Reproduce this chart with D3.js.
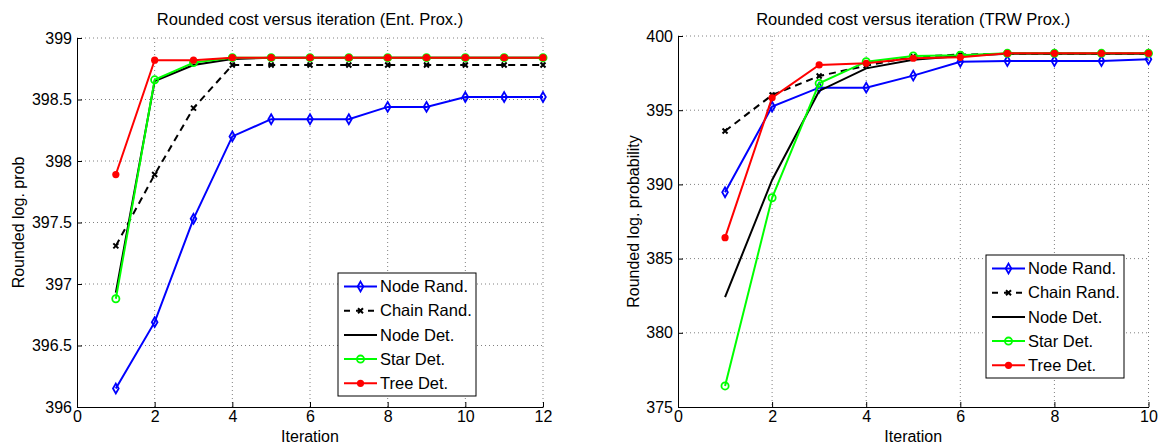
<!DOCTYPE html>
<html>
<head>
<meta charset="utf-8">
<script src="https://cdn.jsdelivr.net/npm/d3@7"></script>
<style>
  body { margin: 0; background: #fff; }
  svg { font-family: 'Liberation Sans', Arial, sans-serif; }
  .grid line { stroke: #808080; stroke-dasharray: 1, 3; }
  .axis path, .axis line { stroke: #000; }
  .axis text { font-size: 16px; fill: #000; }
</style>
</head>
<body>
<div id="chart"></div>
<script>
/* global d3 */

// iterations
let iterEnt = [1, 2, 3, 4, 5, 6, 7, 8, 9, 10, 11, 12]
let iterTrw = [1, 2, 3, 4, 5, 6, 7, 8, 9, 10]

let seriesNames = ['Node Rand.', 'Chain Rand.', 'Node Det.', 'Star Det.', 'Tree Det.']

// Ent. Prox.
let nodeRandEnt = [396.15, 396.69, 397.53, 398.2, 398.34, 398.34, 398.34, 398.44, 398.44, 398.52, 398.52, 398.52]
let chainRandEnt = [397.31, 397.89, 398.43, 398.78, 398.78, 398.78, 398.78, 398.78, 398.78, 398.78, 398.78, 398.78]
let nodeDetEnt = [396.93, 398.65, 398.78, 398.83, 398.84, 398.84, 398.84, 398.84, 398.84, 398.84, 398.84, 398.84]
let starDetEnt = [396.88, 398.66, 398.8, 398.84, 398.84, 398.84, 398.84, 398.84, 398.84, 398.84, 398.84, 398.84]
let treeDetEnt = [397.89, 398.82, 398.82, 398.84, 398.84, 398.84, 398.84, 398.84, 398.84, 398.84, 398.84, 398.84]

// TRW Prox.
let nodeRandTrw = [389.47, 395.24, 396.52, 396.52, 397.33, 398.27, 398.31, 398.31, 398.31, 398.43]
let chainRandTrw = [393.6, 396.02, 397.3, 398.0, 398.6, 398.75, 398.8, 398.8, 398.8, 398.8]
let nodeDetTrw = [382.4, 390.3, 396.3, 397.82, 398.4, 398.65, 398.8, 398.8, 398.8, 398.8]
let starDetTrw = [376.42, 389.1, 396.81, 398.27, 398.65, 398.7, 398.83, 398.83, 398.83, 398.83]
let treeDetTrw = [386.41, 395.84, 398.05, 398.16, 398.5, 398.56, 398.83, 398.83, 398.83, 398.83]

let xTicksEnt = [0, 2, 4, 6, 8, 10, 12]
let yTicksEnt = [396, 396.5, 397, 397.5, 398, 398.5, 399]
let xTicksTrw = [0, 2, 4, 6, 8, 10]
let yTicksTrw = [375, 380, 385, 390, 395, 400]

let styles = [
    { color: '#0000ff', dash: null, marker: 'diamond' },
    { color: '#000000', dash: '7,5', marker: 'times' },
    { color: '#000000', dash: null, marker: null },
    { color: '#00ff00', dash: null, marker: 'circle' },
    { color: '#ff0000', dash: null, marker: 'dot' }
]

let svg = d3.select('#chart').append('svg')
    .attr('width', 1158)
    .attr('height', 444)

let DrawPlot = function (box, opts) {
    this.box = box
    this.g = svg.append('g')
        .attr('transform', 'translate(' + box.left + ', ' + box.top + ')')
    this.width = box.right - box.left
    this.height = box.bottom - box.top
    this.xScale = d3.scaleLinear().domain(opts.xDomain).range([0, this.width])
    this.yScale = d3.scaleLinear().domain(opts.yDomain).range([this.height, 0])
    this.opts = opts
}

DrawPlot.prototype.marker = function (sel, type, color) {
    if (type === 'diamond') {
        sel.append('path')
            .attr('d', d3.symbol().type(d3.symbolDiamond).size(28))
            .attr('fill', 'none').attr('stroke', color).attr('stroke-width', 1.8)
    } else if (type === 'times') {
        sel.append('path')
            .attr('d', d3.symbol().type(d3.symbolTimes).size(18))
            .attr('fill', 'none').attr('stroke', color).attr('stroke-width', 2)
    } else if (type === 'circle') {
        sel.append('circle')
            .attr('r', 3.6)
            .attr('fill', 'none').attr('stroke', color).attr('stroke-width', 1.8)
    } else if (type === 'dot') {
        sel.append('circle')
            .attr('r', 3.6)
            .attr('fill', color)
    }
}

DrawPlot.prototype.draw = function (xs, series) {
    let self = this
    let xScale = this.xScale
    let yScale = this.yScale

    // grid
    this.g.append('g').attr('class', 'grid')
        .selectAll('line.gx').data(this.opts.xTicks.slice(1)).enter().append('line')
        .attr('x1', d => xScale(d)).attr('x2', d => xScale(d))
        .attr('y1', 0).attr('y2', this.height)
    this.g.append('g').attr('class', 'grid')
        .selectAll('line.gy').data(this.opts.yTicks.slice(1)).enter().append('line')
        .attr('x1', 0).attr('x2', this.width)
        .attr('y1', d => yScale(d)).attr('y2', d => yScale(d))

    let xAxis = d3.axisBottom(xScale)
        .tickValues(this.opts.xTicks)
        .tickFormat(d3.format('d'))
        .tickSizeInner(-5).tickSizeOuter(0).tickPadding(4)
    let yAxis = d3.axisLeft(yScale)
        .tickValues(this.opts.yTicks)
        .tickFormat(d => String(d))
        .tickSizeInner(-5).tickSizeOuter(0).tickPadding(5)

    this.g.append('g')
        .attr('class', 'x axis')
        .attr('transform', 'translate(0,' + this.height + ')')
        .call(xAxis)
    this.g.append('g')
        .attr('class', 'y axis')
        .call(yAxis)

    let valueline = d3.line()
        .x(d => xScale(d[0]))
        .y(d => yScale(d[1]))

    series.forEach(function (values, i) {
        let st = styles[i]
        let pts = xs.map((x, j) => [x, values[j]])
        self.g.append('path')
            .attr('d', valueline(pts))
            .attr('fill', 'none')
            .attr('stroke', st.color)
            .attr('stroke-width', 2)
            .attr('stroke-dasharray', st.dash)
        if (st.marker) {
            pts.forEach(function (p) {
                let m = self.g.append('g')
                    .attr('transform', 'translate(' + xScale(p[0]) + ',' + yScale(p[1]) + ')')
                self.marker(m, st.marker, st.color)
            })
        }
    })

    // title and labels
    this.g.append('text')
        .attr('x', this.width / 2).attr('y', this.opts.titleY)
        .attr('text-anchor', 'middle').attr('font-size', 16.5)
        .text(this.opts.title)
    this.g.append('text')
        .attr('x', this.width / 2).attr('y', this.height + 35)
        .attr('text-anchor', 'middle').attr('font-size', 16)
        .text('Iteration')
    this.g.append('text')
        .attr('transform', 'translate(' + this.opts.yLabelX + ',' + this.height / 2 + ') rotate(-90)')
        .attr('text-anchor', 'middle').attr('font-size', 16)
        .text(this.opts.yLabel)

    // legend
    let lg = svg.append('g')
        .attr('transform', 'translate(' + this.opts.legend[0] + ',' + this.opts.legend[1] + ')')
    lg.append('rect')
        .attr('width', 138).attr('height', 123)
        .attr('fill', '#fff').attr('stroke', '#000').attr('stroke-width', 1)
    seriesNames.forEach(function (name, i) {
        let st = styles[i]
        let row = lg.append('g').attr('transform', 'translate(0,' + (13.5 + i * 24.2) + ')')
        row.append('line')
            .attr('x1', 6).attr('x2', 39)
            .attr('stroke', st.color).attr('stroke-width', 2)
            .attr('stroke-dasharray', st.dash ? '6,6' : null)
        if (st.marker) {
            let m = row.append('g').attr('transform', 'translate(22.5,0)')
            self.marker(m, st.marker, st.color)
        }
        row.append('text')
            .attr('x', 42).attr('dy', '0.35em')
            .attr('font-size', 16.5)
            .text(name)
    })
}

let left = new DrawPlot({ left: 77, right: 543, top: 38, bottom: 407 }, {
    xDomain: [0, 12], yDomain: [396, 399],
    xTicks: xTicksEnt, yTicks: yTicksEnt,
    title: 'Rounded cost versus iteration (Ent. Prox.)', titleY: -13,
    yLabel: 'Rounded log. prob', yLabelX: -53,
    legend: [338, 273]
})
left.draw(iterEnt, [nodeRandEnt, chainRandEnt, nodeDetEnt, starDetEnt, treeDetEnt])

let right = new DrawPlot({ left: 678, right: 1148.5, top: 36, bottom: 407 }, {
    xDomain: [0, 10], yDomain: [375, 400],
    xTicks: xTicksTrw, yTicks: yTicksTrw,
    title: 'Rounded cost versus iteration (TRW Prox.)', titleY: -11,
    yLabel: 'Rounded log. probability', yLabelX: -39,
    legend: [986, 255]
})
right.draw(iterTrw, [nodeRandTrw, chainRandTrw, nodeDetTrw, starDetTrw, treeDetTrw])
</script>
</body>
</html>
